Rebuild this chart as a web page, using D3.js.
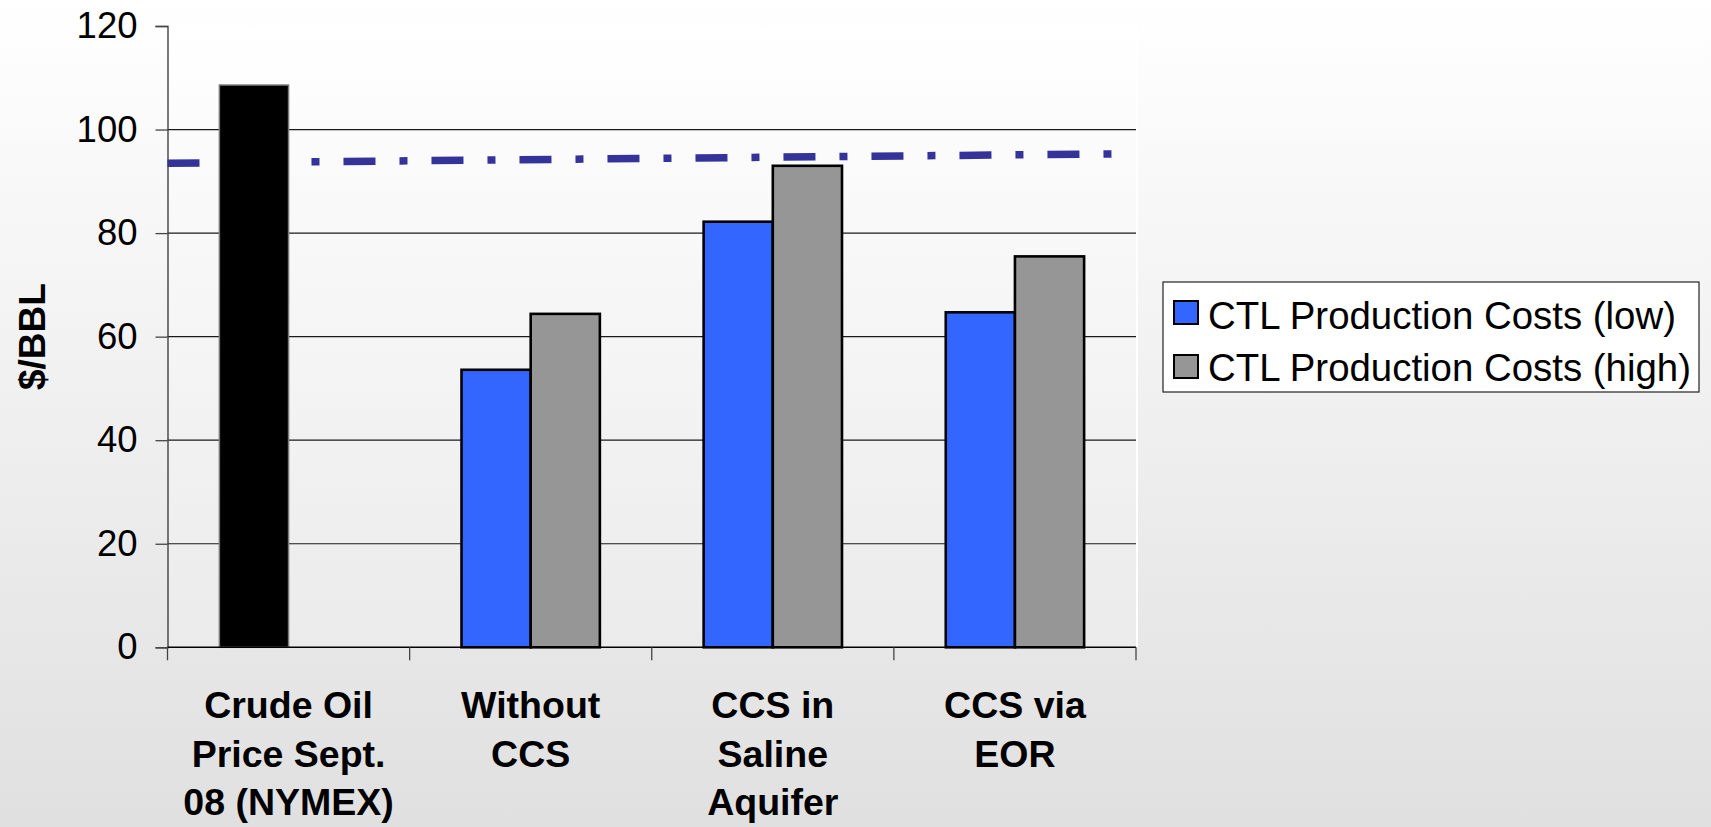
<!DOCTYPE html>
<html>
<head>
<meta charset="utf-8">
<script src="https://cdn.jsdelivr.net/npm/d3@7"></script>
<style>
  html, body { margin: 0; padding: 0; }
  body { width: 1711px; height: 827px; overflow: hidden; }
  text { font-family: "Liberation Sans", Arial, sans-serif; }
</style>
</head>
<body>
<svg id="chart" width="1711" height="827"></svg>
<script>
// Cost of coal-to-liquids production vs. crude oil price ($/BBL)
const categories = [
  ["Crude Oil", "Price Sept.", "08 (NYMEX)"],
  ["Without", "CCS"],
  ["CCS in", "Saline", "Aquifer"],
  ["CCS via", "EOR"]
];
const categoryKeys = ["crude", "noccs", "saline", "eor"];
const crudeOilPrice = 108.6;                 // NYMEX, September 2008
const lowCosts  = [null, 53.6, 82.2, 64.7];  // CTL Production Costs (low)
const highCosts = [null, 64.4, 93.0, 75.5];  // CTL Production Costs (high)
const seriesNames = ["CTL Production Costs (low)", "CTL Production Costs (high)"];
const yTicks = [0, 20, 40, 60, 80, 100, 120];
// dash-dot reference line: position in category units, $/BBL
const refLine = [{ pos: 0, value: 93.5 }, { pos: 3.9, value: 95.3 }];

const svg = d3.select("#chart");
const W = 1711, H = 827;
const plot = { left: 167.5, right: 1136, top: 26, bottom: 647.3 };

const defs = svg.append("defs");
const bgGrad = defs.append("linearGradient").attr("id", "bg")
  .attr("x1", 0).attr("y1", 0).attr("x2", 0).attr("y2", 1);
bgGrad.append("stop").attr("offset", "0%").attr("stop-color", "#ffffff");
bgGrad.append("stop").attr("offset", "100%").attr("stop-color", "#e0e0e0");
const plotGrad = defs.append("linearGradient").attr("id", "plotbg")
  .attr("x1", 0).attr("y1", 0).attr("x2", 0).attr("y2", 1);
plotGrad.append("stop").attr("offset", "0%").attr("stop-color", "#ffffff");
plotGrad.append("stop").attr("offset", "100%").attr("stop-color", "#ebebeb");

svg.append("rect").attr("width", W).attr("height", H).attr("fill", "url(#bg)");
svg.append("rect")
  .attr("x", plot.left).attr("y", plot.top)
  .attr("width", plot.right - plot.left).attr("height", plot.bottom - plot.top)
  .attr("fill", "url(#plotbg)");
svg.append("line")
  .attr("x1", plot.right + 1).attr("x2", plot.right + 1)
  .attr("y1", plot.top).attr("y2", plot.bottom)
  .attr("stroke", "#ffffff").attr("stroke-width", 2);

// scales
const x0 = d3.scaleBand().domain(categoryKeys).range([plot.left, plot.right]).padding(0);
const barW = x0.bandwidth() / 3.5;
const x1 = d3.scaleBand().domain(["low", "high"]).range([0, 2 * barW]);
const groupOffset = (x0.bandwidth() - 2 * barW) / 2;
const xPos = d3.scaleLinear().domain([0, categoryKeys.length]).range([plot.left, plot.right]);
const y = d3.scaleLinear().domain([0, 120]).range([plot.bottom, plot.top]);

// gridlines
svg.append("g").selectAll("line")
  .data(yTicks.filter(t => t > 0 && t < 120))
  .join("line")
  .attr("x1", plot.left).attr("x2", plot.right)
  .attr("y1", d => y(d)).attr("y2", d => y(d))
  .attr("stroke", "#1a1a1a").attr("stroke-width", 1.2);

// y axis
const yAxis = svg.append("g")
  .attr("transform", `translate(${plot.left},0)`)
  .call(d3.axisLeft(y).tickValues(yTicks).tickSize(12).tickPadding(18));
yAxis.select(".domain").attr("stroke", "#333").attr("stroke-width", 1.3);
yAxis.selectAll(".tick line").attr("stroke", "#444").attr("stroke-width", 1.3);
yAxis.selectAll(".tick text")
  .attr("font-size", 36.5).attr("fill", "#000")
  .attr("font-family", "'Liberation Sans', Arial, sans-serif");

// reference line (dash-dot)
svg.append("path")
  .datum(refLine)
  .attr("d", d3.line().x(d => xPos(d.pos)).y(d => y(d.value)))
  .attr("fill", "none")
  .attr("stroke", "#333399")
  .attr("stroke-width", 7.5)
  .attr("stroke-dasharray", "32,24,8,24");

// bars
const groups = svg.append("g").selectAll("g")
  .data(categoryKeys)
  .join("g")
  .attr("transform", d => `translate(${x0(d) + groupOffset},0)`);

groups.each(function (key, i) {
  const g = d3.select(this);
  if (i === 0) {
    g.append("rect")
      .attr("x", x1("low")).attr("width", barW)
      .attr("y", y(crudeOilPrice)).attr("height", y(0) - y(crudeOilPrice))
      .attr("fill", "#000000").attr("stroke", "#7a7a7a").attr("stroke-width", 1.5);
  }
  const vals = [["low", lowCosts[i], "#3366ff"], ["high", highCosts[i], "#969696"]];
  vals.forEach(([s, v, c]) => {
    if (v == null) return;
    g.append("rect")
      .attr("x", x1(s)).attr("width", barW)
      .attr("y", y(v)).attr("height", y(0) - y(v))
      .attr("fill", c).attr("stroke", "#000").attr("stroke-width", 2.6);
  });
});

// x axis
const xAxisG = svg.append("g");
xAxisG.append("line")
  .attr("x1", plot.left).attr("x2", plot.right)
  .attr("y1", plot.bottom).attr("y2", plot.bottom)
  .attr("stroke", "#000").attr("stroke-width", 1.5);
xAxisG.selectAll("line.tick")
  .data(d3.range(categoryKeys.length + 1))
  .join("line").attr("class", "tick")
  .attr("x1", d => xPos(d)).attr("x2", d => xPos(d))
  .attr("y1", plot.bottom).attr("y2", plot.bottom + 13)
  .attr("stroke", "#444").attr("stroke-width", 1.3);

// category labels
const catLabels = svg.append("g").selectAll("text")
  .data(categories)
  .join("text")
  .attr("x", (d, i) => x0(categoryKeys[i]) + x0.bandwidth() / 2)
  .attr("y", 718)
  .attr("text-anchor", "middle")
  .attr("font-size", 37.5).attr("font-weight", "bold");
catLabels.selectAll("tspan")
  .data(d => d)
  .join("tspan")
  .attr("x", function () { return d3.select(this.parentNode).attr("x"); })
  .attr("dy", (d, j) => j === 0 ? 0 : 48.5)
  .text(d => d);

// y axis title
svg.append("text")
  .attr("transform", `translate(45,${(plot.top + plot.bottom) / 2}) rotate(-90)`)
  .attr("text-anchor", "middle")
  .attr("font-size", 37).attr("font-weight", "bold")
  .text("$/BBL");

// legend
const legend = svg.append("g");
legend.append("rect")
  .attr("x", 1163).attr("y", 282).attr("width", 536).attr("height", 110)
  .attr("fill", "#ffffff").attr("stroke", "#222").attr("stroke-width", 1.2);
const legendColors = ["#3366ff", "#969696"];
seriesNames.forEach((name, i) => {
  legend.append("rect")
    .attr("x", 1174).attr("y", 301 + i * 54).attr("width", 24).attr("height", 23)
    .attr("fill", legendColors[i]).attr("stroke", "#000").attr("stroke-width", 2);
  legend.append("text")
    .attr("x", 1208).attr("y", 328.5 + i * 52.5)
    .attr("font-size", 38.4)
    .text(name);
});
</script>
</body>
</html>
